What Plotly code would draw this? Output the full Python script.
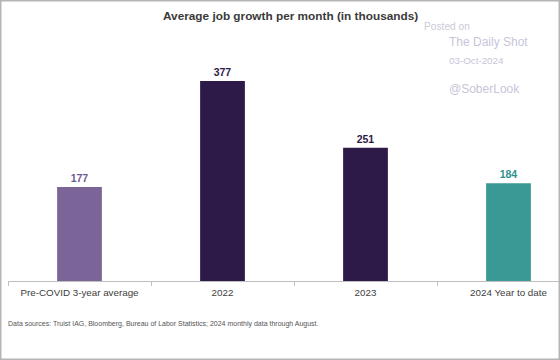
import plotly.graph_objects as go

categories = ["Pre-COVID 3-year average", "2022", "2023", "2024 Year to date"]
values = [177, 377, 251, 184]
bar_colors = ["#7B6497", "#2D1A48", "#2D1A48", "#3A9995"]
label_colors = ["#6E5A8E", "#2D1A48", "#2D1A48", "#2E8F8B"]

W, H = 560, 360
ml, mr, mt, mb = 8, 0, 30, 79
pw, ph = W - ml - mr, H - mt - mb
cat_px = 143.0  # pixel width of one category slot

def px(x):
    return (x - ml) / pw

def py(y):
    return (H - mb - y) / ph

fig = go.Figure(go.Bar(
    x=categories, y=values,
    marker=dict(color=bar_colors, line=dict(width=0)),
    width=0.313,
    text=values, texttemplate="<b>%{y}</b>", textposition="outside",
    textfont=dict(family="Liberation Sans, Arial", size=10.5, color=label_colors),
    cliponaxis=False,
    hoverinfo="skip",
))

fig.update_layout(
    width=W, height=H,
    margin=dict(l=ml, r=mr, t=mt, b=mb, autoexpand=False),
    paper_bgcolor="white", plot_bgcolor="white",
    showlegend=False,
    font=dict(family="Liberation Sans, Arial", color="#333333"),
    xaxis=dict(
        range=[-0.5, -0.5 + pw / cat_px],
        showline=True, linecolor="#BFBFBF", linewidth=1,
        ticks="outside", tickson="boundaries", ticklen=4, tickcolor="#BFBFBF",
        tickfont=dict(size=9.8, color="#404040"), tickangle=0, automargin=False,
        ticklabelstandoff=2,
        showgrid=False,
    ),
    yaxis=dict(range=[0, 473], visible=False, showgrid=False, automargin=False),
)

fig.add_annotation(text="<b>Average job growth per month (in thousands)</b>",
                   xref="paper", yref="paper", x=px(290), y=py(15.5),
                   xanchor="center", yanchor="middle", showarrow=False,
                   font=dict(size=11.8, color="#3A3A3A"))

fig.add_annotation(text="Data sources: Truist IAG, Bloomberg, Bureau of Labor Statistics; 2024 monthly data through August.",
                   xref="paper", yref="paper", x=px(6), y=py(324),
                   xanchor="left", yanchor="middle", showarrow=False,
                   font=dict(size=7, color="#555555"))

wm = "#C6C6DA"
fig.add_annotation(text="Posted on", xref="paper", yref="paper", x=px(422), y=py(26),
                   xanchor="left", yanchor="middle", showarrow=False,
                   font=dict(size=10.2, color="#CBCBD6"))
fig.add_annotation(text="The Daily Shot", xref="paper", yref="paper", x=px(447), y=py(42),
                   xanchor="left", yanchor="middle", showarrow=False,
                   font=dict(size=12, color=wm))
fig.add_annotation(text="03-Oct-2024", xref="paper", yref="paper", x=px(447), y=py(60),
                   xanchor="left", yanchor="middle", showarrow=False,
                   font=dict(size=9.8, color=wm))
fig.add_annotation(text="@SoberLook", xref="paper", yref="paper", x=px(447), y=py(89),
                   xanchor="left", yanchor="middle", showarrow=False,
                   font=dict(size=12, color=wm))

fig.add_shape(type="rect", xref="paper", yref="paper",
              x0=px(0.75), x1=px(W - 0.75), y0=py(H - 0.75), y1=py(0.75),
              line=dict(color="#B5B5B5", width=1.5), fillcolor="rgba(0,0,0,0)", layer="above")

fig.write_html("out.html", config={"displayModeBar": False},
               post_script="document.body.style.margin='0';")
